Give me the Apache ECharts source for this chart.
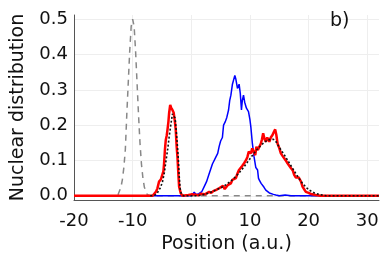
<!DOCTYPE html>
<html><head><meta charset="utf-8">
<script src="https://cdn.jsdelivr.net/npm/echarts@6/dist/echarts.min.js"></script>
<style>html,body{margin:0;padding:0;background:#fff}#c{width:382px;height:254px}</style>
</head><body><div id="c"></div>
<script>
const xTicks = [-20, -10, 0, 10, 20, 30];
const yTicks = [0, 0.1, 0.2, 0.3, 0.4, 0.5];
const panelLabel = 'b)';
const xName = 'Position (a.u.)';
const yName = 'Nuclear distribution';

const grayX = [-20, -13, -12.5, -12, -11.75, -11.5, -11.25, -11, -10.75, -10.5, -10.25, -10, -9.75, -9.5, -9.25, -9, -8.75, -8.5, -8.25, -8, -7.5, -7, 32];
const grayY = [0, 0, 0.003, 0.024, 0.046, 0.08, 0.13, 0.23, 0.32, 0.41, 0.48, 0.5, 0.48, 0.41, 0.32, 0.23, 0.15, 0.09, 0.05, 0.024, 0.003, 0, 0];

const blueX = [-20, 0, 0.3, 0.5, 0.8, 1.3, 1.8, 2.2, 2.6, 3.0, 3.3, 3.6, 3.9, 4.2, 4.5, 4.75, 5.0, 5.3, 5.5, 5.8, 6.05, 6.35, 6.55, 6.75, 7.0, 7.2, 7.42, 7.6, 7.87, 8.15, 8.35, 8.55, 8.7, 8.9, 9.1, 9.4, 9.75, 10.0, 10.15, 10.4, 10.7, 11.0, 11.3, 11.45, 11.6, 11.9, 12.1, 12.4, 12.7, 13.0, 13.3, 13.6, 14.0, 14.4, 15, 16, 17, 32];
const blueY = [0, 0, 0.004, 0.01, 0.003, 0.006, 0.012, 0.026, 0.04, 0.06, 0.075, 0.09, 0.085, 0.11, 0.12, 0.14, 0.155, 0.165, 0.2, 0.21, 0.222, 0.243, 0.27, 0.285, 0.315, 0.32, 0.341, 0.33, 0.304, 0.316, 0.29, 0.243, 0.27, 0.285, 0.265, 0.248, 0.238, 0.215, 0.195, 0.15, 0.11, 0.08, 0.073, 0.05, 0.044, 0.035, 0.03, 0.024, 0.016, 0.016, 0.008, 0.011, 0.004, 0.002, 0, 0.002, 0, 0];

const redX = [-20, -6.6, -6.3, -6.0, -5.78, -5.5, -5.2, -4.93, -4.75, -4.64, -4.5, -4.35, -4.2, -4.07, -3.9, -3.79, -3.6, -3.45, -3.22, -3.0, -2.8, -2.65, -2.5, -2.36, -2.2, -2.08, -1.8, -1.5, -0.5, 0, 0.3, 0.8, 1.2, 1.6, 1.9, 2.3, 2.6, 3.04, 3.4, 3.8, 4.18, 4.5, 4.8, 5.03, 5.4, 5.7, 5.88, 6.2, 6.5, 6.74, 7.0, 7.3, 7.6, 7.87, 8.1, 8.44, 8.7, 9.0, 9.3, 9.57, 9.8, 10.15, 10.4, 10.72, 10.9, 11.1, 11.35, 11.6, 11.86, 12.05, 12.25, 12.5, 12.7, 12.95, 13.1, 13.3, 13.55, 13.84, 14.05, 14.3, 14.5, 14.7, 15.0, 15.27, 15.55, 15.84, 16.1, 16.4, 16.7, 17.0, 17.3, 17.54, 17.8, 18.1, 18.3, 18.5, 18.7, 18.96, 19.3, 19.53, 20.0, 20.4, 21.2, 22, 32];
const redY = [0, 0, 0.005, 0.012, 0.021, 0.04, 0.046, 0.049, 0.07, 0.092, 0.13, 0.158, 0.17, 0.186, 0.21, 0.233, 0.257, 0.25, 0.243, 0.235, 0.21, 0.186, 0.14, 0.11, 0.06, 0.026, 0.007, 0, 0.002, 0.004, 0, 0.003, 0.001, 0.006, 0.007, 0.004, 0.009, 0.011, 0.008, 0.014, 0.016, 0.015, 0.022, 0.021, 0.028, 0.019, 0.021, 0.03, 0.032, 0.035, 0.045, 0.049, 0.05, 0.063, 0.072, 0.073, 0.085, 0.092, 0.1, 0.11, 0.125, 0.12, 0.134, 0.134, 0.115, 0.139, 0.13, 0.133, 0.148, 0.16, 0.177, 0.16, 0.153, 0.165, 0.17, 0.153, 0.165, 0.172, 0.18, 0.188, 0.172, 0.148, 0.135, 0.12, 0.113, 0.106, 0.1, 0.092, 0.085, 0.078, 0.072, 0.059, 0.052, 0.049, 0.052, 0.054, 0.04, 0.026, 0.017, 0.011, 0.008, 0.005, 0.002, 0, 0];

const dotX = [-7, -6.2, -5.78, -5.3, -4.93, -4.6, -4.35, -4.0, -3.79, -3.5, -3.22, -3.0, -2.76, -2.55, -2.36, -2.2, -2.08, -1.9, -1.7, -1.3, 1, 2, 3, 4, 5, 6, 7, 8, 9, 10, 11, 12, 13, 14, 14.5, 15, 16, 17, 18, 19, 20, 21, 22, 23, 32];
const dotY = [0, 0.002, 0.008, 0.022, 0.038, 0.065, 0.095, 0.135, 0.165, 0.2, 0.232, 0.235, 0.22, 0.18, 0.14, 0.1, 0.06, 0.02, 0.005, 0, 0, 0.003, 0.008, 0.015, 0.022, 0.032, 0.045, 0.062, 0.082, 0.105, 0.127, 0.145, 0.158, 0.16, 0.152, 0.137, 0.112, 0.085, 0.058, 0.034, 0.017, 0.008, 0.003, 0, 0];

const pairs = (xs, ys) => xs.map((x, i) => [x, ys[i]]);
const FONT = 'DejaVu Sans';

const chart = echarts.init(document.getElementById('c'), null, {renderer: 'canvas'});
chart.setOption({
  animation: false,
  backgroundColor: '#fff',
  grid: {left: 74, right: 3, top: 15, bottom: 54, containLabel: false, outerBoundsMode: 'none'},
  xAxis: {
    type: 'value', min: -20, max: 32, interval: 10,
    name: xName, nameLocation: 'middle', nameGap: 34,
    nameTextStyle: {fontFamily: FONT, fontSize: 19, color: '#111'},
    axisLine: {onZero: false, lineStyle: {color: '#555', width: 1}},
    axisTick: {show: false, customValues: xTicks},
    axisLabel: {fontFamily: FONT, fontSize: 18, color: '#111', margin: 12, customValues: xTicks,
      formatter: v => String(v)},
    splitLine: {show: true, lineStyle: {color: '#eeeeee', width: 1}}
  },
  yAxis: {
    type: 'value', min: -0.012, max: 0.512,
    name: yName, nameLocation: 'middle', nameGap: 46, nameRotate: 90,
    nameTextStyle: {fontFamily: FONT, fontSize: 19, color: '#111'},
    axisLine: {show: true, onZero: false, lineStyle: {color: '#555', width: 1}},
    axisTick: {show: false, customValues: yTicks},
    axisLabel: {fontFamily: FONT, fontSize: 18, color: '#111', margin: 6, customValues: yTicks,
      formatter: v => v.toFixed(1)},
    splitLine: {show: true, lineStyle: {color: '#eeeeee', width: 1}}
  },
  graphic: [{type: 'text', left: 330, top: 12, z: 100,
    style: {text: panelLabel, fontFamily: FONT, fontSize: 19, fill: '#111', stroke: null, lineWidth: 0}}],
  series: [
    {type: 'line', data: pairs(grayX, grayY), showSymbol: false, lineStyle: {color: '#888', width: 1.5, type: [6, 5]}, z: 1},
    {type: 'line', data: pairs(blueX, blueY), showSymbol: false, lineStyle: {color: '#0000ff', width: 1.5}, z: 2},
    {type: 'line', data: pairs(redX, redY), showSymbol: false, lineStyle: {color: '#ff0000', width: 2.5}, z: 3},
    {type: 'line', data: pairs(dotX, dotY), showSymbol: false, lineStyle: {color: '#111', width: 1.6, type: [2, 2]}, z: 4}
  ]
});
</script></body></html>
